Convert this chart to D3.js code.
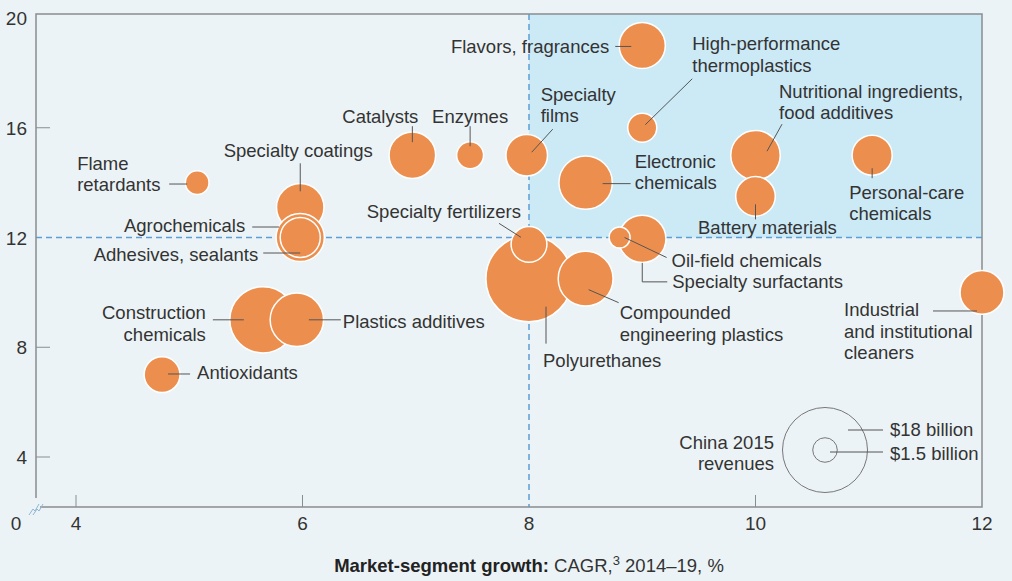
<!DOCTYPE html>
<html>
<head>
<meta charset="utf-8">
<script src="https://cdn.jsdelivr.net/npm/d3@7"></script>
<style>
  html, body { margin: 0; padding: 0; background: #ecf3f6; }
  svg text { font-family: "Liberation Sans", Arial, sans-serif; fill: #333; }
</style>
</head>
<body>
<div id="chart"></div>
<script>
// segment data: growth (x, %), y value, China 2015 revenue ($ billion)
var names = ['Polyurethanes', 'Construction chemicals', 'Plastics additives', 'Compounded engineering plastics',
    'Electronic chemicals', 'Nutritional ingredients', 'Specialty coatings', 'Agrochemicals', 'Adhesives, sealants',
    'Specialty surfactants', 'Oil-field chemicals', 'Flavors, fragrances', 'Catalysts', 'Specialty films',
    'Battery materials', 'Personal-care chemicals', 'Industrial cleaners', 'Specialty fertilizers', 'Antioxidants',
    'High-performance thermoplastics', 'Enzymes', 'Flame retardants'];
var growth = [8, 5.65, 5.95, 8.5, 8.5, 10, 5.98, 5.98, 5.98, 9, 8.8, 9, 6.97, 7.98, 10, 11.03, 12, 8, 4.76, 9, 7.48, 5.07];
var yValues = [10.5, 9, 9, 10.5, 14, 15, 13.1, 12, 12, 11.95, 12, 19, 15, 15, 13.5, 15, 10, 11.75, 7, 16, 15, 14];
var revenue = [18.5, 10.9, 7.1, 7.5, 7.1, 6.1, 5.6, 5.8, 4.0, 5.6, 1.1, 5.3, 5.4, 4.3, 3.9, 4.0, 4.8, 3.2, 3.2, 2.1, 1.8, 1.4];

var xTicks = [4, 6, 8, 10, 12];
var yTicks = [4, 8, 12, 16, 20];
var legendValues = [18, 1.5];
var legendLabels = ['$18 billion', '$1.5 billion'];

// label placement, offsets in px from the bubble centre
var labelLayout = {
    'Polyurethanes': { lines: ['Polyurethanes'], anchor: 'start', dx: 14, dy: 82, leader: [[17, 28], [17, 65]] },
    'Construction chemicals': { lines: ['Construction', 'chemicals'], anchor: 'end', dx: -57, dy: -7, leader: [[-50, 0], [-19, 0]] },
    'Plastics additives': { lines: ['Plastics additives'], anchor: 'start', dx: 46, dy: 2, leader: [[12, 0], [44, 0]] },
    'Compounded engineering plastics': { lines: ['Compounded', 'engineering plastics'], anchor: 'start', dx: 34, dy: 34, leader: [[3, 11], [33, 24]] },
    'Electronic chemicals': { lines: ['Electronic', 'chemicals'], anchor: 'start', dx: 49, dy: -21.5, leader: [[17, 1], [45, 1]] },
    'Nutritional ingredients': { lines: ['Nutritional ingredients,', 'food additives'], anchor: 'start', dx: 23.5, dy: -64, leader: [[26.5, -31], [11.5, -4]] },
    'Specialty coatings': { lines: ['Specialty coatings'], anchor: 'middle', dx: -2, dy: -57, leader: [[0, -44], [0, -16]] },
    'Agrochemicals': { lines: ['Agrochemicals'], anchor: 'end', dx: -55, dy: -12.5, leader: [[-48, -10.5], [-21, -10.5]] },
    'Adhesives, sealants': { lines: ['Adhesives, sealants'], anchor: 'end', dx: -42, dy: 16.5, leader: [[-37, 15.5], [0, 15.5]] },
    'Specialty surfactants': { lines: ['Specialty surfactants'], anchor: 'start', dx: 30, dy: 43, leader: [[0, 24], [0, 43], [25, 43]] },
    'Oil-field chemicals': { lines: ['Oil-field chemicals'], anchor: 'start', dx: 52, dy: 22.5, leader: [[5, 0], [47, 20]] },
    'Flavors, fragrances': { lines: ['Flavors, fragrances'], anchor: 'end', dx: -33, dy: 1, leader: [[-27, 1], [-11, 1]] },
    'Catalysts': { lines: ['Catalysts'], anchor: 'end', dx: 6, dy: -39, leader: [[0, -29], [0, -13]] },
    'Specialty films': { lines: ['Specialty', 'films'], anchor: 'start', dx: 14, dy: -61, leader: [[26, -26], [5, -3]] },
    'Battery materials': { lines: ['Battery materials'], anchor: 'start', dx: -57.5, dy: 31, leader: [[0, 8], [0, 23]] },
    'Personal-care chemicals': { lines: ['Personal-care', 'chemicals'], anchor: 'start', dx: -23, dy: 37, leader: [[0, 13], [0, 23]] },
    'Industrial cleaners': { lines: ['Industrial', 'and institutional', 'cleaners'], anchor: 'start', dx: -138, dy: 17.6, leader: [[-49, 18.6], [-5, 18.6]] },
    'Specialty fertilizers': { lines: ['Specialty fertilizers'], anchor: 'end', dx: -8, dy: -33, leader: [[-30, -21], [-8, -7]] },
    'Antioxidants': { lines: ['Antioxidants'], anchor: 'start', dx: 35, dy: -1.7, leader: [[6, -0.7], [28, -0.7]] },
    'High-performance thermoplastics': { lines: ['High-performance', 'thermoplastics'], anchor: 'start', dx: 50, dy: -84, leader: [[3, -3], [50, -49]] },
    'Enzymes': { lines: ['Enzymes'], anchor: 'middle', dx: 0, dy: -39, leader: [[0, -29], [0, -9]] },
    'Flame retardants': { lines: ['Flame', 'retardants'], anchor: 'start', dx: -120, dy: -19.6, leader: [[-28, 1.4], [-10, 1.4]] }
};

var data = names.map(function (n, i) {
    return { name: n, x: growth[i], y: yValues[i], rev: revenue[i] };
});

var width = 1012, height = 581;
var plotLeft = 36, plotRight = 982, plotTop = 14, plotBottom = 507;
var fontSize = "18.5px";

var x = d3.scaleLinear().domain([4, 12]).range([76, 982]);
var y = d3.scaleLinear().domain([4, 20]).range([457, 18]);
var r = d3.scaleSqrt().domain([0, 18]).range([0, 42.5]);

var svg = d3.select("#chart").append("svg")
    .attr("width", width)
    .attr("height", height);

svg.append("rect").attr("width", width).attr("height", height).attr("fill", "#ecf3f6");

// highlighted quadrant
svg.append("rect")
    .attr("x", x(8)).attr("y", plotTop)
    .attr("width", plotRight - x(8)).attr("height", y(12) - plotTop)
    .attr("fill", "#cce9f6");

// dashed threshold lines
svg.append("line")
    .attr("x1", plotLeft).attr("x2", plotRight).attr("y1", y(12)).attr("y2", y(12))
    .attr("stroke", "#5b9fd5").attr("stroke-width", 1.5).attr("stroke-dasharray", "6,4");
svg.append("line")
    .attr("x1", x(8)).attr("x2", x(8)).attr("y1", plotTop).attr("y2", plotBottom)
    .attr("stroke", "#5b9fd5").attr("stroke-width", 1.5).attr("stroke-dasharray", "6,4");

// frame
var frameColor = "#8a8d90";
svg.append("path")
    .attr("d", "M" + plotLeft + ",498V" + plotTop + "H" + plotRight + "V" + plotBottom + "H40")
    .attr("fill", "none").attr("stroke", frameColor).attr("stroke-width", 1.5);

// axis break
[0, 4].forEach(function (o) {
    svg.append("path")
        .attr("d", "M" + (29 + o) + ",515 L" + (33 + o) + ",509 L" + (35 + o) + ",511 L" + (39 + o) + ",504")
        .attr("fill", "none").attr("stroke", "#8fb6d2").attr("stroke-width", 1);
});
svg.append("text").attr("x", 16).attr("y", 530).attr("text-anchor", "middle")
    .attr("font-size", "19px").text("0");

// y ticks
svg.selectAll(".ytick").data(yTicks.filter(function (d) { return d !== 20 && d !== 12; })).enter().append("line")
    .attr("x1", plotLeft).attr("x2", 50).attr("y1", function (d) { return y(d); }).attr("y2", function (d) { return y(d); })
    .attr("stroke", frameColor).attr("stroke-width", 1);
svg.selectAll(".ylab").data(yTicks).enter().append("text")
    .attr("x", 27).attr("y", function (d) { return y(d) + 7; })
    .attr("text-anchor", "end").attr("font-size", "19px")
    .text(function (d) { return d; });

// x ticks
svg.selectAll(".xtick").data(xTicks.filter(function (d) { return d !== 8 && d !== 12; })).enter().append("line")
    .attr("x1", function (d) { return x(d); }).attr("x2", function (d) { return x(d); })
    .attr("y1", 495).attr("y2", plotBottom)
    .attr("stroke", frameColor).attr("stroke-width", 1);
svg.selectAll(".xlab").data(xTicks).enter().append("text")
    .attr("x", function (d) { return x(d); }).attr("y", 530)
    .attr("text-anchor", "middle").attr("font-size", "19px")
    .text(function (d) { return d; });

// axis title
var title = svg.append("text").attr("x", x(8)).attr("y", 572)
    .attr("text-anchor", "middle").attr("font-size", fontSize);
title.append("tspan").attr("font-weight", "bold").attr("fill", "#222").text("Market-segment growth:");
title.append("tspan").text(" CAGR,");
title.append("tspan").attr("font-size", "13px").attr("dy", -7).text("3");
title.append("tspan").attr("dy", 7).text(" 2014\u201319, %");

// bubbles
svg.selectAll(".bubble").data(data).enter().append("circle")
    .attr("class", "bubble")
    .attr("cx", function (d) { return x(d.x); })
    .attr("cy", function (d) { return y(d.y); })
    .attr("r", function (d) { return r(d.rev); })
    .attr("fill", "#ec8f4e")
    .attr("stroke", "#fff").attr("stroke-width", 1.5);

// leaders and labels
var ann = svg.append("g");
data.forEach(function (d) {
    var L = labelLayout[d.name];
    if (!L) return;
    var cx = x(d.x), cy = y(d.y);
    ann.append("path")
        .attr("d", d3.line()(L.leader.map(function (p) { return [cx + p[0], cy + p[1]]; })))
        .attr("fill", "none").attr("stroke", "#555").attr("stroke-width", 1);
    var t = ann.append("text")
        .attr("text-anchor", L.anchor).attr("font-size", fontSize);
    L.lines.forEach(function (line, i) {
        t.append("tspan")
            .attr("x", cx + L.dx)
            .attr("y", cy + L.dy + 6.5 + i * 21.5)
            .text(line);
    });
});

// size legend
var lg = svg.append("g").attr("transform", "translate(825,450)");
lg.selectAll("circle").data(legendValues).enter().append("circle")
    .attr("r", function (d) { return r(d); })
    .attr("fill", "none").attr("stroke", "#777").attr("stroke-width", 1);
lg.selectAll(".lead").data(legendValues).enter().append("line")
    .attr("x1", function (d, i) { return i === 0 ? 23 : 5; }).attr("x2", 58)
    .attr("y1", function (d, i) { return i === 0 ? -20 : 2; })
    .attr("y2", function (d, i) { return i === 0 ? -20 : 2; })
    .attr("stroke", "#555").attr("stroke-width", 1);
lg.selectAll(".ltext").data(legendLabels).enter().append("text")
    .attr("x", 65).attr("y", function (d, i) { return (i === 0 ? -21 : 3) + 6.5; })
    .attr("font-size", fontSize).text(function (d) { return d; });
var cl = lg.append("text").attr("text-anchor", "end").attr("font-size", fontSize);
cl.append("tspan").attr("x", -51).attr("y", -8 + 6.5).text("China 2015");
cl.append("tspan").attr("x", -51).attr("y", 13 + 6.5).text("revenues");
</script>
</body>
</html>
